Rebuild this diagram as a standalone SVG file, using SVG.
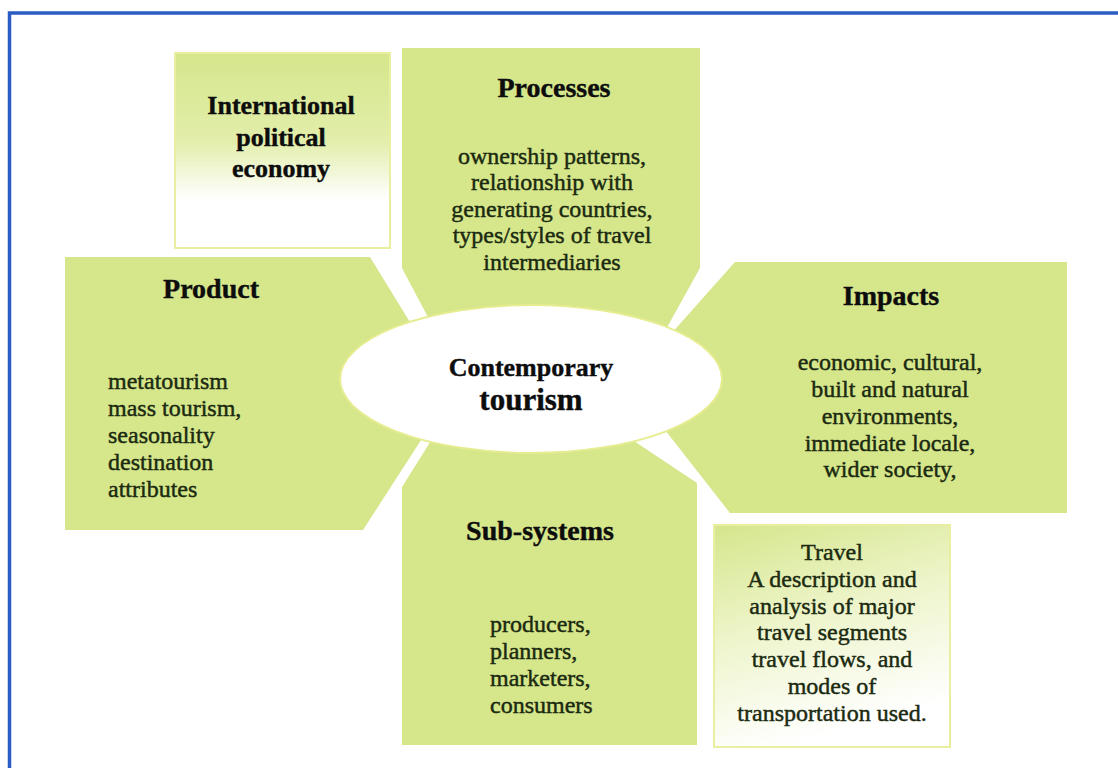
<svg xmlns="http://www.w3.org/2000/svg" width="1118" height="768" viewBox="0 0 1118 768">
<style>
.petal{fill:#d5e68b}
.h{font-family:"Liberation Serif","Times New Roman",serif;font-weight:bold;font-size:28px;fill:#0d0d0d;stroke:#0d0d0d;stroke-width:0.4}
.b{font-family:"Liberation Serif","Times New Roman",serif;font-size:24px;fill:#1b2a10;stroke:#1b2a10;stroke-width:0.45}
.c{text-anchor:middle}
</style>
<defs>
<linearGradient id="gIPE" x1="0" y1="0" x2="0" y2="1">
<stop offset="0" stop-color="#d5e68b"/>
<stop offset="0.45" stop-color="#e2eeaa"/>
<stop offset="0.75" stop-color="#ffffff"/>
<stop offset="1" stop-color="#ffffff"/>
</linearGradient>
<linearGradient id="gTravel" x1="0" y1="0" x2="0.3" y2="1">
<stop offset="0" stop-color="#d5e68b"/>
<stop offset="0.5" stop-color="#eef5cc"/>
<stop offset="1" stop-color="#ffffff"/>
</linearGradient>
</defs>
<rect width="1118" height="768" fill="#ffffff"/>
<g id="frame">
<path d="M9.5,768 V13 H1118" fill="none" stroke="#2a5cc4" stroke-width="3.5"/>
</g>
<g id="ipe">
<rect x="175" y="53" width="215" height="195" fill="url(#gIPE)" stroke="#e9eea0" stroke-width="2"/>
<text class="h c" style="font-size:26px" x="281" y="114">International</text>
<text class="h c" style="font-size:26px" x="281" y="146">political</text>
<text class="h c" style="font-size:26px" x="281" y="177">economy</text>
</g>
<g id="processes">
<polygon class="petal" points="402,48 700,48 700,268 660,340 440,340 402,268"/>
<text class="h c" x="554" y="97">Processes</text>
<text class="b c" x="552" y="164">ownership patterns,</text>
<text class="b c" x="552" y="190">relationship with</text>
<text class="b c" x="552" y="217">generating countries,</text>
<text class="b c" x="552" y="243">types/styles of travel</text>
<text class="b c" x="552" y="270">intermediaries</text>
</g>
<g id="product">
<polygon class="petal" points="65,257 370,257 424,345 434,420 363,530 65,530"/>
<text class="h c" x="211" y="298">Product</text>
<text class="b" x="108" y="389">metatourism</text>
<text class="b" x="108" y="416">mass tourism,</text>
<text class="b" x="108" y="443">seasonality</text>
<text class="b" x="108" y="470">destination</text>
<text class="b" x="108" y="497">attributes</text>
</g>
<g id="impacts">
<polygon class="petal" points="735,262 1067,262 1067,513 730,513 665,430 670,335"/>
<text class="h c" x="891" y="305">Impacts</text>
<text class="b c" x="890" y="370">economic, cultural,</text>
<text class="b c" x="890" y="397">built and natural</text>
<text class="b c" x="890" y="424">environments,</text>
<text class="b c" x="890" y="451">immediate locale,</text>
<text class="b c" x="890" y="477">wider society,</text>
</g>
<g id="subsystems">
<polygon class="petal" points="402,487 444,420 610,425 697,483 697,745 402,745"/>
<text class="h c" x="540" y="540">Sub-systems</text>
<text class="b" x="490" y="632">producers,</text>
<text class="b" x="490" y="659">planners,</text>
<text class="b" x="490" y="686">marketers,</text>
<text class="b" x="490" y="713">consumers</text>
</g>
<g id="travel">
<rect x="714" y="525" width="236" height="222" fill="url(#gTravel)" stroke="#e9eea0" stroke-width="2"/>
<text class="b c" x="832" y="560">Travel</text>
<text class="b c" x="832" y="587">A description and</text>
<text class="b c" x="832" y="614">analysis of major</text>
<text class="b c" x="832" y="640">travel segments</text>
<text class="b c" x="832" y="667">travel flows, and</text>
<text class="b c" x="832" y="694">modes of</text>
<text class="b c" x="832" y="721">transportation used.</text>
</g>
<g id="contemporary">
<ellipse cx="531" cy="379" rx="191" ry="74" fill="#ffffff" stroke="#e6ec90" stroke-width="2"/>
<text class="h c" style="font-size:26px" x="531" y="376">Contemporary</text>
<text class="h c" style="font-size:31px" x="531" y="410">tourism</text>
</g>
</svg>
